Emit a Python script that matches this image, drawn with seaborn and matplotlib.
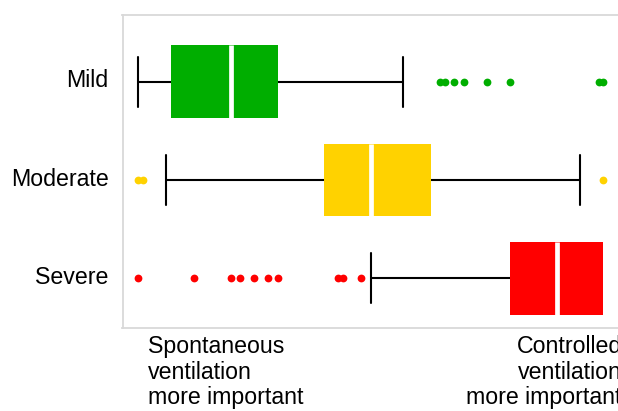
import matplotlib
matplotlib.use("Agg")
import matplotlib.pyplot as plt
import matplotlib.transforms as mtransforms
import seaborn as sns
import pandas as pd

# ---- data (0 = spontaneous, 100 = controlled) ----
categories = ["Mild", "Moderate", "Severe"]
colors = ["#00AE00", "#FFD200", "#FF0000"]

mild_values = [0,
               2, 3, 4, 5, 5, 6, 6, 7, 7, 7,
               9, 10, 12, 13, 14, 15, 17, 18, 19, 20,
               21, 22, 23, 24, 25, 26, 27, 28, 29, 30,
               40, 57,
               65, 66, 68, 70, 75, 80, 99, 100]
moderate_values = [0, 1, 6,
                   15, 22, 28, 32, 35, 37, 39, 40,
                   41, 42, 43, 44, 45, 46, 47, 48, 49, 50,
                   51, 52, 54, 55, 57, 58, 59, 60, 62, 63,
                   66, 70, 74, 78, 82, 86, 90, 93, 95, 100]
severe_values = [0, 12, 20, 22, 25, 28, 30, 43, 44, 48,
                 50, 80,
                 81, 82, 83, 84, 85, 86, 87, 88, 88, 89, 90,
                 91, 92, 93, 94, 95, 96, 97, 98, 99, 100, 100,
                 100, 100, 100, 100, 100, 100, 100, 100, 100, 100, 100]

left_note = "Spontaneous\nventilation\nmore important"
right_note = "Controlled\nventilation\nmore important"

df = pd.concat([
    pd.DataFrame({"severity": cat, "score": vals})
    for cat, vals in zip(categories, [mild_values, moderate_values, severe_values])
], ignore_index=True)

sns.set_style("white")
plt.rcParams["font.family"] = ["Liberation Sans", "DejaVu Sans"]

fig = plt.figure(figsize=(6.18, 4.11), dpi=100)
W, H = 618, 411
left_px, right_px, top_px, bottom_px = 122.5, 619.5, 15, 327.5
ax = fig.add_axes([left_px / W, 1 - bottom_px / H,
                   (right_px - left_px) / W, (bottom_px - top_px) / H])

sns.boxplot(data=df, x="score", y="severity", hue="severity",
            order=categories, hue_order=categories, palette=colors,
            saturation=1, orient="h", width=0.74, whis=1.5, linewidth=1.5,
            linecolor="black", fliersize=5.6, legend=False, ax=ax,
            medianprops=dict(color="white", linewidth=3.4),
            flierprops=dict(marker="o"))

for cont, col in zip(ax.containers, colors):
    for b in cont.boxes:
        b.set_edgecolor(col)
        b.set_linewidth(0)
    for f in cont.fliers:
        f.set_markerfacecolor(col)
        f.set_markeredgecolor(col)
        f.set_markeredgewidth(0)
    for m in cont.medians:
        m.set_color("white")
        m.set_linewidth(3.4)
    for c in cont.caps:
        yd = c.get_ydata()
        mid = (yd[0] + yd[1]) / 2
        c.set_ydata([mid - 0.255, mid + 0.255])
    # hide zero-length whiskers and their caps (hidden behind the box)
    for w, c in zip(cont.whiskers, cont.caps):
        xd = w.get_xdata()
        if abs(xd[0] - xd[1]) < 1e-9:
            w.set_visible(False)
            c.set_visible(False)

ax.set_xlim(-3.33, 103.5)
ax.set_ylim(2.5, -0.68)
ax.set_xlabel("")
ax.set_ylabel("")
ax.set_xticks([])
ax.tick_params(axis="y", length=0, pad=10, labelsize=16.7, labelcolor="black")
shift = mtransforms.ScaledTranslation(0, 3.5 / 100, fig.dpi_scale_trans)
for lab in ax.get_yticklabels():
    lab.set_transform(lab.get_transform() + shift)
for side in ["left", "top", "bottom"]:
    ax.spines[side].set_color("#d9d9d9")
    ax.spines[side].set_linewidth(1.3)
ax.spines["right"].set_visible(False)

fig.text(148 / W, 1 - 404 / H, left_note, ha="left", va="baseline",
         fontsize=16.7, color="black", linespacing=1.13)
fig.text(622 / W, 1 - 404 / H, right_note, ha="right", va="baseline",
         fontsize=16.7, color="black", multialignment="right",
         linespacing=1.13)

fig.savefig("out.png", dpi=100)
